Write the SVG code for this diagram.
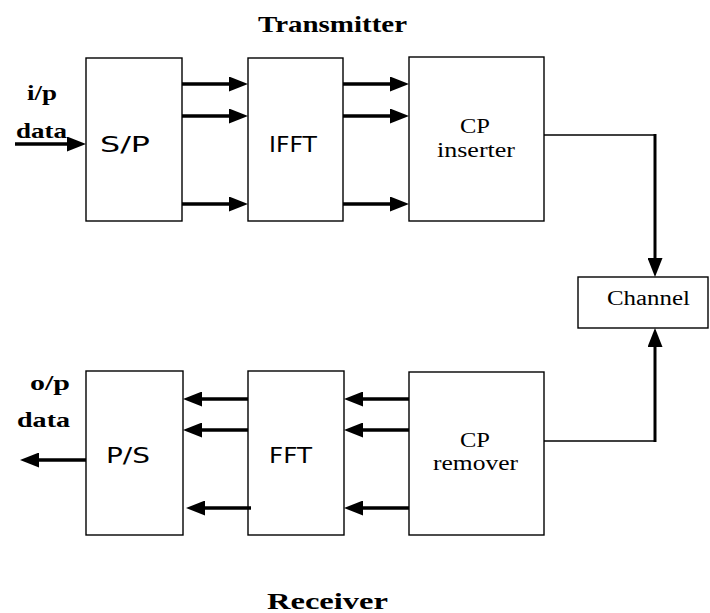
<svg xmlns="http://www.w3.org/2000/svg" width="710" height="613" viewBox="0 0 710 613">
<style>
.box{fill:#fff;stroke:#000;stroke-width:1.4}
.arr{stroke:#000;stroke-width:3.5;fill:none}
.thin{stroke:#000;stroke-width:1.4;fill:none}
.thick{stroke:#000;stroke-width:3;fill:none}
.ttl{font-family:"Liberation Serif",serif;font-weight:bold;font-size:24px;fill:#000}
.lbl{font-family:"Liberation Serif",serif;font-weight:bold;font-size:22px;fill:#000}
.sans{font-family:"DejaVu Sans","Liberation Sans",sans-serif;font-size:22px;fill:#000}
.ser{font-family:"Liberation Serif",serif;font-size:20px;fill:#000}
</style>
<defs>
<marker id="ah" markerUnits="userSpaceOnUse" markerWidth="19" markerHeight="15" refX="12" refY="7.5" orient="auto" viewBox="0 0 19 15">
<path d="M0,0 L19,7.5 L0,15 Z" fill="#000"/>
</marker>
</defs>
<rect width="710" height="613" fill="#fff"/>
<text class="ttl" x="258" y="32" textLength="149" lengthAdjust="spacingAndGlyphs">Transmitter</text>
<text class="ttl" x="267" y="609" textLength="121" lengthAdjust="spacingAndGlyphs">Receiver</text>
<text class="lbl" x="27" y="100" textLength="30" lengthAdjust="spacingAndGlyphs">i/p</text>
<text class="lbl" x="16" y="138" textLength="51" lengthAdjust="spacingAndGlyphs">data</text>
<text class="lbl" x="30" y="390" textLength="40" lengthAdjust="spacingAndGlyphs">o/p</text>
<text class="lbl" x="17" y="427" textLength="53" lengthAdjust="spacingAndGlyphs">data</text>
<g id="sp"><rect class="box" x="86" y="58" width="96" height="163"/><text class="sans" x="100" y="152" textLength="50" lengthAdjust="spacingAndGlyphs">S/P</text></g>
<g id="ifft"><rect class="box" x="248" y="58" width="95" height="163"/><text class="sans" x="269" y="152" textLength="48" lengthAdjust="spacingAndGlyphs">IFFT</text></g>
<g id="cpins"><rect class="box" x="409" y="57" width="135" height="164"/><text class="ser" x="460" y="133" textLength="30" lengthAdjust="spacingAndGlyphs">CP</text><text class="ser" x="437" y="157" textLength="78" lengthAdjust="spacingAndGlyphs">inserter</text></g>
<g id="channel"><rect class="box" x="578" y="277" width="130" height="51"/><text class="ser" x="607" y="305" textLength="83" lengthAdjust="spacingAndGlyphs">Channel</text></g>
<g id="ps"><rect class="box" x="86" y="371" width="97" height="164"/><text class="sans" x="106" y="463" textLength="44" lengthAdjust="spacingAndGlyphs">P/S</text></g>
<g id="fft"><rect class="box" x="248" y="371" width="96" height="164"/><text class="sans" x="269" y="463" textLength="43" lengthAdjust="spacingAndGlyphs">FFT</text></g>
<g id="cprem"><rect class="box" x="409" y="372" width="135" height="163"/><text class="ser" x="460" y="447" textLength="30" lengthAdjust="spacingAndGlyphs">CP</text><text class="ser" x="433" y="470" textLength="85" lengthAdjust="spacingAndGlyphs">remover</text></g>
<g id="connectors">
<line class="arr" x1="15" y1="144" x2="79" y2="144" marker-end="url(#ah)"/>
<line class="arr" x1="182" y1="84" x2="241" y2="84" marker-end="url(#ah)"/>
<line class="arr" x1="182" y1="116" x2="241" y2="116" marker-end="url(#ah)"/>
<line class="arr" x1="182" y1="204" x2="241" y2="204" marker-end="url(#ah)"/>
<line class="arr" x1="343" y1="84" x2="402" y2="84" marker-end="url(#ah)"/>
<line class="arr" x1="343" y1="116" x2="402" y2="116" marker-end="url(#ah)"/>
<line class="arr" x1="343" y1="204" x2="402" y2="204" marker-end="url(#ah)"/>
<line class="thin" x1="544" y1="135" x2="656" y2="135"/>
<line class="thick" x1="655" y1="134" x2="655" y2="270" marker-end="url(#ah)"/>
<line class="thin" x1="544" y1="441" x2="656" y2="441"/>
<line class="thick" x1="655" y1="442" x2="655" y2="335" marker-end="url(#ah)"/>
<line class="arr" x1="409" y1="399" x2="351" y2="399" marker-end="url(#ah)"/>
<line class="arr" x1="409" y1="430" x2="351" y2="430" marker-end="url(#ah)"/>
<line class="arr" x1="409" y1="508" x2="351" y2="508" marker-end="url(#ah)"/>
<line class="arr" x1="248" y1="399" x2="190" y2="399" marker-end="url(#ah)"/>
<line class="arr" x1="248" y1="430" x2="190" y2="430" marker-end="url(#ah)"/>
<line class="arr" x1="251" y1="508" x2="193" y2="508" marker-end="url(#ah)"/>
<line class="arr" x1="86" y1="460" x2="27" y2="460" marker-end="url(#ah)"/>
</g>
</svg>
